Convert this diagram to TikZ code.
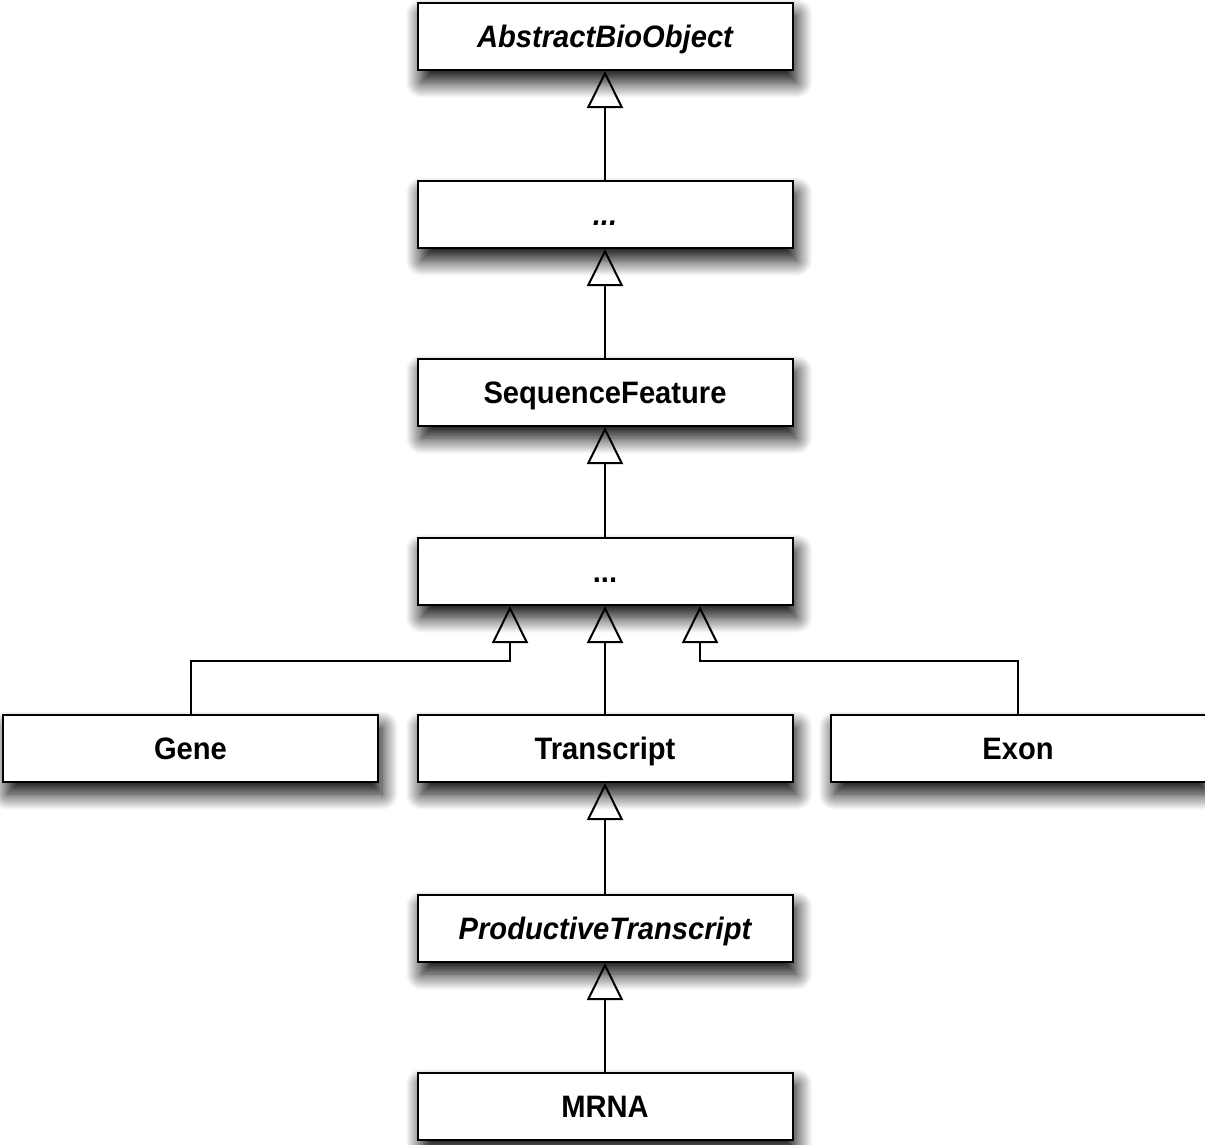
\documentclass[tikz,border=0pt]{standalone}
\usepackage{fontspec}
\setmainfont{Liberation Sans}
\newfontfamily\clsfont[FakeStretch=0.94]{Liberation Sans}
\usetikzlibrary{arrows.meta,shadows.blur}

\tikzset{
  cls/.style={draw=black, line width=2pt, fill=white,
    minimum width=375pt, minimum height=67pt, inner sep=0pt,
    text height=22pt, text depth=0pt,
    font=\clsfont\fontsize{31}{36}\selectfont\bfseries,
    blur shadow={shadow xshift=4pt, shadow yshift=-12pt,
      shadow blur radius=16pt, shadow blur steps=16, shadow opacity=100}},
  abstract/.style={cls, font=\clsfont\fontsize{31}{36}\selectfont\bfseries\itshape},
  inh/.style={line width=2pt, -{Triangle[open, length=37pt, width=36pt, line width=2pt]}}
}

\begin{document}
\begin{tikzpicture}[x=1pt, y=-1pt]
  \useasboundingbox (0,0) rectangle (1205,1144);

  % class boxes
  \node[abstract] (abo)   at (605, 36.5)   {AbstractBioObject};
  \node[abstract] (dots1) at (605, 214.5)  {...};
  \node[cls]      (seqf)  at (605, 392.5)  {SequenceFeature};
  \node[cls]      (dots2) at (605, 571.5)  {...};
  \node[cls]      (gene)  at (190.5, 748.5) {Gene};
  \node[cls]      (trans) at (605, 748.5)  {Transcript};
  \node[cls]      (exon)  at (1018, 748.5) {Exon};
  \node[abstract] (prod)  at (605, 928.5)  {ProductiveTranscript};
  \node[cls]      (mrna)  at (605, 1106)   {MRNA};

  % bend points of the side branches
  \coordinate (gl) at (510, 661);
  \coordinate (el) at (700, 661);

  % generalisation arrows
  \draw[inh] (dots1.north) -- (abo.south);
  \draw[inh] (seqf.north)  -- (dots1.south);
  \draw[inh] (dots2.north) -- (seqf.south);
  \draw[inh] (gene.north) |- (gl) -- (gl |- dots2.south);
  \draw[inh] (trans.north) -- (dots2.south);
  \draw[inh] (exon.north) |- (el) -- (el |- dots2.south);
  \draw[inh] (prod.north)  -- (trans.south);
  \draw[inh] (mrna.north)  -- (prod.south);
\end{tikzpicture}
\end{document}
